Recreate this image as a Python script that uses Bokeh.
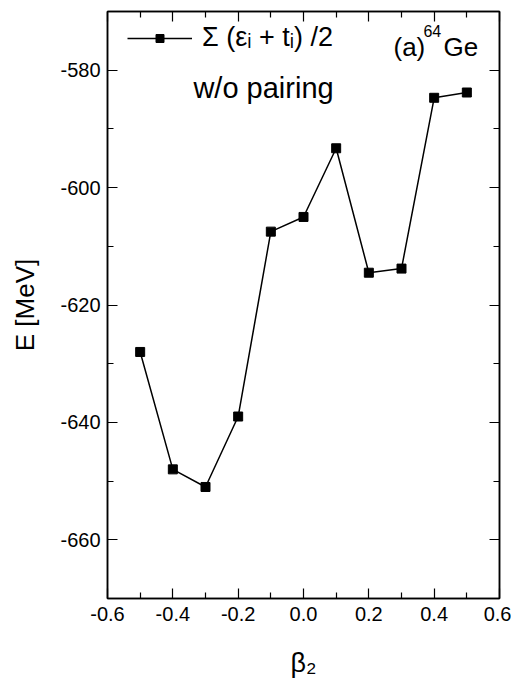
from bokeh.plotting import figure
from bokeh.models import (LinearAxis, Range1d, Legend, LegendItem, Label,
                          FixedTicker, NumeralTickFormatter, CustomJSTickFormatter)
from bokeh.embed import file_html
from bokeh.resources import INLINE

# Sum of single-particle energies and kinetic terms vs. quadrupole deformation
beta2 = [-0.5, -0.4, -0.3, -0.2, -0.1, 0.0, 0.1, 0.2, 0.3, 0.4, 0.5]
energy = [-628.0, -648.0, -651.0, -639.0, -607.5, -605.0, -593.3, -614.5, -613.8, -584.7, -583.8]

x_major = [-0.6, -0.4, -0.2, 0.0, 0.2, 0.4, 0.6]
x_minor = [-0.5, -0.3, -0.1, 0.1, 0.3, 0.5]
y_major = [-660, -640, -620, -600, -580]
y_minor = [-670, -650, -630, -610, -590, -570]

FONT = "Liberation Sans"

p = figure(width=511, height=685,
           x_range=Range1d(-0.6, 0.6), y_range=Range1d(-670, -570),
           output_backend="svg", toolbar_location=None,
           min_border_left=107, min_border_right=12,
           min_border_top=11, min_border_bottom=87)
p.xgrid.visible = False
p.ygrid.visible = False
p.outline_line_color = "black"
p.outline_line_width = 1.5
p.background_fill_color = "white"
p.border_fill_color = "white"

line_r = p.line(beta2, energy, line_color="black", line_width=1.5)
pts_r = p.scatter(beta2, energy, marker="square", size=9,
                  fill_color="black", line_color="black")


def style_axis(ax, ticks, minor, show_labels):
    ax.ticker = FixedTicker(ticks=ticks, minor_ticks=minor)
    ax.major_tick_in = 10
    ax.major_tick_out = 0
    ax.minor_tick_in = 6
    ax.minor_tick_out = 0
    ax.axis_line_width = 1.5
    ax.axis_line_color = "black"
    ax.major_tick_line_color = "black"
    ax.minor_tick_line_color = "black"
    ax.major_tick_line_width = 1.2
    ax.minor_tick_line_width = 1.2
    ax.major_label_text_font = FONT
    ax.major_label_text_font_size = "20px"
    ax.major_label_text_color = "black"
    ax.axis_label_text_color = "black"
    if not show_labels:
        ax.formatter = CustomJSTickFormatter(code="return ''")


xb = p.xaxis[0]
style_axis(xb, x_major, x_minor, True)
xb.formatter = NumeralTickFormatter(format="0.0")
xb.major_label_standoff = 8
xb.axis_label = "β₂"
xb.axis_label_text_font = FONT
xb.axis_label_text_font_size = "27px"
xb.axis_label_text_font_style = "normal"
xb.axis_label_standoff = 24

yl = p.yaxis[0]
style_axis(yl, y_major, y_minor, True)
yl.formatter = NumeralTickFormatter(format="0")
yl.major_label_standoff = 7
yl.axis_label = "E [MeV]"
yl.axis_label_text_font = FONT
yl.axis_label_text_font_size = "26px"
yl.axis_label_text_font_style = "normal"
yl.axis_label_standoff = 17

xt = LinearAxis()
style_axis(xt, x_major, x_minor, False)
xt.major_label_standoff = 0
p.add_layout(xt, "above")

yr = LinearAxis()
style_axis(yr, y_major, y_minor, False)
yr.major_label_standoff = 0
p.add_layout(yr, "right")

legend = Legend(items=[LegendItem(label="Σ (εᵢ + tᵢ) /2", renderers=[line_r, pts_r])],
                location=(20, 545), margin=0, padding=0,
                border_line_color=None, background_fill_alpha=0,
                glyph_width=65, glyph_height=20, label_standoff=10,
                label_text_font=FONT, label_text_font_size="27px",
                label_text_color="black")
p.add_layout(legend, "center")

notes = [
    ("(a)", 0.2755, -576.1, "26px"),
    ("64", 0.367, -573.4, "16px"),
    ("Ge", 0.4285, -576.1, "26px"),
    ("w/o pairing", -0.337, -583.1, "29px"),
]
for txt, xx, yy, fs in notes:
    p.add_layout(Label(x=xx, y=yy, text=txt, text_font=FONT, text_font_size=fs,
                       text_color="black", text_baseline="alphabetic",
                       text_align="left"))

open("out.html", "w").write(file_html(p, INLINE))
